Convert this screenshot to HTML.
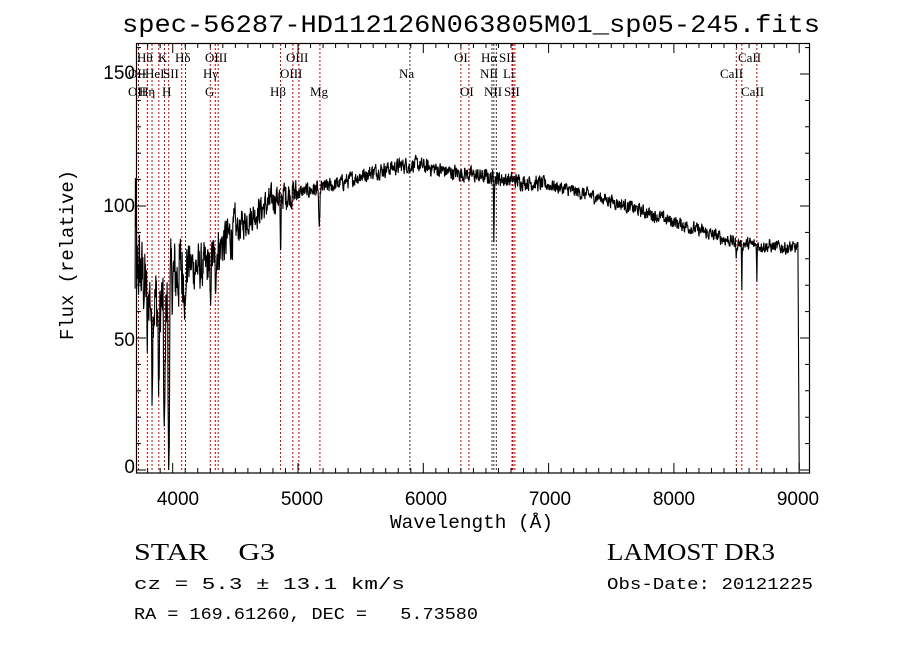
<!DOCTYPE html>
<html><head><meta charset="utf-8"><style>
body{margin:0;background:#fff;width:900px;height:649px;overflow:hidden}
svg{display:block}
text{white-space:pre}
.m{font-family:"Liberation Mono",monospace}
.s{font-family:"Liberation Serif",serif}
.a{font-family:"Liberation Sans",sans-serif}
</style></head><body>
<svg id="c" width="900" height="649" viewBox="0 0 900 649" xmlns="http://www.w3.org/2000/svg">
<rect width="900" height="649" fill="#fff"/>
<text class="m" x="122" y="32" font-size="25" textLength="698" lengthAdjust="spacingAndGlyphs">spec-56287-HD112126N063805M01_sp05-245.fits</text>
<g id="lines"></g>
<path id="spec" fill="none" stroke="#000" stroke-width="1.1"/>
<rect x="136.5" y="43.5" width="673" height="429.5" fill="none" stroke="#000" stroke-width="1.2"/>
<g id="ticks" stroke="#000" stroke-width="1"></g>
<g class="a" font-size="19" text-anchor="middle">
<text x="178" y="505">4000</text><text x="302" y="505">5000</text><text x="426" y="505">6000</text>
<text x="550" y="505">7000</text><text x="674" y="505">8000</text><text x="798" y="505">9000</text>
</g>
<g class="a" font-size="19" text-anchor="end">
<text x="135" y="473">0</text><text x="135" y="346">50</text><text x="135" y="212">100</text><text x="135" y="79">150</text>
</g>
<text class="m" x="390" y="528" font-size="19" textLength="163" lengthAdjust="spacingAndGlyphs">Wavelength (Å)</text>
<text class="m" x="0" y="0" font-size="19" textLength="170" lengthAdjust="spacingAndGlyphs" transform="translate(73,340) rotate(-90)">Flux (relative)</text>
<g id="lab" class="s" font-size="13"></g>
<text class="s" x="134" y="560" font-size="24" textLength="141" lengthAdjust="spacingAndGlyphs">STAR    G3</text>
<text class="s" x="607" y="560" font-size="24" textLength="168" lengthAdjust="spacingAndGlyphs">LAMOST DR3</text>
<text class="m" x="134" y="589" font-size="17" textLength="271" lengthAdjust="spacingAndGlyphs">cz = 5.3 ± 13.1 km/s</text>
<text class="m" x="607" y="589" font-size="17" textLength="206" lengthAdjust="spacingAndGlyphs">Obs-Date: 20121225</text>
<text class="m" x="134" y="619" font-size="17" textLength="344" lengthAdjust="spacingAndGlyphs">RA = 169.61260, DEC =   5.73580</text>
</svg>
<script>
const X=w=>172.7+(w-4000)*0.1253, Y=f=>470-2.64*f;
const NS="http://www.w3.org/2000/svg";
function el(p,t,a,txt){const e=document.createElementNS(NS,t);for(const k in a)e.setAttribute(k,a[k]);if(txt)e.textContent=txt;document.getElementById(p).appendChild(e);}
const L=[[3727,'r'],[3798,'r'],[3835,'r'],[3889,'r'],[3934,'r'],[3968,'r'],[4072,'r'],[4102,'k'],[4300,'r'],[4340,'r'],[4363,'r'],[4861,'r'],[4959,'r'],[5007,'r'],[5175,'r'],[5893,'k'],[6300,'r'],[6364,'r'],[6548,'k'],[6563,'k'],[6583,'k'],[6708,'r'],[6716,'r'],[6731,'r'],[8498,'r'],[8542,'r'],[8662,'r']];
L.forEach(([w,c])=>{const x=X(w);el('lines','line',{x1:x,x2:x,y1:44,y2:472,stroke:c=='r'?'#c00':'#333','stroke-width':1,'stroke-dasharray':'2,2'});});
const T=[[137,62,'Hθ'],[158,62,'K'],[175,62,'Hδ'],[205,62,'OIII'],[286,62,'OIII'],[454,62,'OI'],[481,62,'Hα'],[499,62,'SII'],[738,62,'CaII'],
[128,78,'OII'],[145,78,'HeI'],[163,78,'SII'],[203,78,'Hγ'],[280,78,'OIII'],[399,78,'Na'],[480,78,'NII'],[503,78,'Li'],[720,78,'CaII'],
[128,96,'OII'],[139,96,'Hη'],[162,96,'H'],[205,96,'G'],[270,96,'Hβ'],[310,96,'Mg'],[460,96,'OI'],[484,96,'NII'],[504,96,'SII'],[741,96,'CaII']];
T.forEach(([x,y,t])=>el('lab','text',{x:x,y:y},t));
for(let w=3700;w<=9100;w+=100){const x=X(w);if(x<137||x>809)continue;const maj=w%1000==0;const h=maj?10:5;el('ticks','line',{x1:x,x2:x,y1:473,y2:473-h});el('ticks','line',{x1:x,x2:x,y1:43,y2:43+h});}
for(let f=0;f<=160;f+=10){const y=Y(f),maj=f%50==0;const h=maj?10:5;el('ticks','line',{x1:136,x2:136+h,y1:y,y2:y});el('ticks','line',{x1:810,x2:810-h,y1:y,y2:y});}
let s=12345;const rnd=()=>{s=(s*1103515245+12345)%2147483648;return s/2147483648;};
const K=[[3700,80],[3800,68],[3900,62],[4000,72],[4100,78],[4250,76],[4400,86],[4600,95],[4850,104],[5000,105],[5300,108],[5600,113],[5900,116],[6200,113],[6500,111],[7000,108],[7500,102],[8000,94],[8500,86],[8700,85],[8950,84]];
function cont(w){for(let i=0;i<K.length-1;i++){if(w<=K[i+1][0]){const t=(w-K[i][0])/(K[i+1][0]-K[i][0]);return K[i][1]+t*(K[i+1][1]-K[i][1]);}}return 84;}
const D=[[3934,55,8],[3968,70,7],[3835,30,6],[3889,35,6],[3798,25,5],[4101,20,5],[4300,20,5],[4340,12,5],[4861,28,4],[5170,18,6],[5893,4,4],[6563,22,3],[8498,8,3],[8542,16,3],[8662,12,3]];
let d='',prev=0;
for(let w=3700;w<=9000;w+=2.5){let f=cont(w);const amp=w<4100?13:w<4500?8:w<5000?5:w<7000?2.6:2.2;prev=0.4*prev+(rnd()-0.5)*amp*2;f+=prev;
D.forEach(([c,dep,wd])=>{const z=(w-c)/wd;f-=dep*Math.exp(-z*z);});
if(w<3712)f=f*0.6+(rnd()*60);
if(w>8990)f=Math.max(0,(9000-w)*8);
f=Math.max(0,f);d+=(d?'L':'M')+X(w).toFixed(1)+' '+Y(f).toFixed(1);}
d+='L'+X(9002).toFixed(1)+' '+Y(0);
document.getElementById('spec').setAttribute('d',d);
</script>
</body></html>
